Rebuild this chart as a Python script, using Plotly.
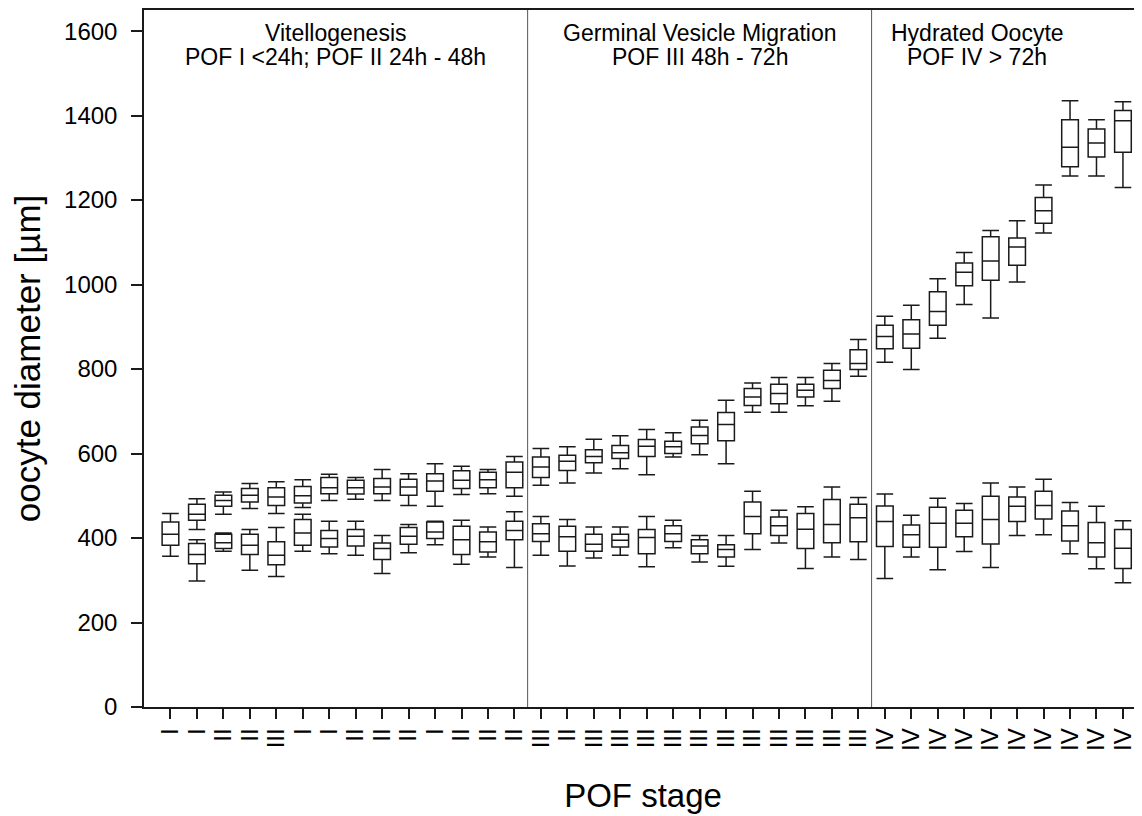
import plotly.graph_objects as go

# ---------------- data ----------------
pof_labels = ["I", "I", "II", "II", "III", "I", "I", "II", "II", "II", "I", "II", "II", "II",
              "III", "II", "III", "III", "III", "III", "III", "III", "III", "III", "III", "III", "III",
              "IV", "IV", "IV", "IV", "IV", "IV", "IV", "IV", "IV", "IV"]

group_titles = ["Vitellogenesis", "Germinal Vesicle Migration", "Hydrated Oocyte"]
group_subtitles = ["POF I <24h; POF II 24h - 48h", "POF III 48h - 72h", "POF IV > 72h"]
group_sizes = [14, 13, 10]

# upper (leading) oocyte cohort: samples 2..37
upper_pos = list(range(1, 37))
upper_low = [420, 456, 470, 458, 472, 489, 492, 489, 477, 475, 503, 505, 499,
             525, 530, 554, 564, 550, 592, 597, 576, 698, 698, 713, 724, 783,
             816, 799, 873, 953, 921, 1006, 1122, 1257, 1257, 1230]
upper_q1 = [442, 475, 485, 477, 483, 505, 504, 505, 501, 511, 517, 519, 519,
            543, 560, 578, 588, 593, 600, 623, 630, 714, 718, 734, 754, 799,
            848, 849, 904, 997, 1010, 1046, 1145, 1279, 1302, 1313]
upper_med = [456, 489, 501, 497, 500, 519, 519, 521, 521, 535, 537, 538, 556,
             568, 582, 593, 602, 617, 616, 643, 669, 734, 742, 750, 773, 813,
             877, 883, 936, 1029, 1056, 1089, 1175, 1325, 1335, 1388]
upper_q3 = [480, 501, 517, 519, 522, 543, 537, 541, 539, 552, 559, 556, 580,
            592, 596, 609, 619, 633, 629, 663, 697, 754, 764, 764, 797, 846,
            904, 917, 983, 1051, 1113, 1110, 1206, 1390, 1368, 1412]
upper_high = [493, 509, 529, 533, 538, 551, 543, 562, 552, 576, 570, 562, 593,
              612, 616, 634, 642, 657, 649, 679, 726, 767, 780, 780, 813, 870,
              925, 951, 1014, 1076, 1128, 1151, 1236, 1435, 1390, 1433]

# lower (secondary) oocyte cohort: samples 1..37
lower_pos = list(range(0, 37))
lower_low = [357, 298, 369, 324, 309, 369, 363, 359, 316, 365, 384, 338, 355, 330,
             359, 334, 353, 359, 332, 377, 343, 333, 373, 388, 328, 355, 349,
             304, 355, 325, 368, 330, 406, 408, 363, 327, 294]
lower_q1 = [383, 339, 375, 361, 337, 383, 379, 381, 349, 385, 399, 361, 367, 396,
            392, 369, 369, 379, 363, 392, 363, 355, 410, 406, 375, 389, 391,
            380, 378, 378, 403, 386, 439, 445, 393, 355, 328]
lower_med = [409, 361, 389, 383, 359, 412, 399, 404, 375, 404, 414, 396, 391, 418,
             410, 403, 385, 395, 401, 410, 381, 373, 451, 429, 421, 432, 448,
             439, 408, 435, 435, 444, 475, 477, 429, 389, 376]
lower_q3 = [438, 387, 409, 409, 391, 444, 418, 420, 388, 425, 438, 428, 414, 440,
            434, 428, 409, 409, 420, 429, 396, 384, 485, 450, 458, 491, 480,
            476, 431, 473, 466, 499, 497, 511, 464, 437, 420]
lower_high = [458, 396, 412, 420, 425, 456, 440, 440, 406, 432, 440, 442, 426, 462,
              451, 444, 426, 426, 451, 442, 406, 406, 511, 466, 474, 521, 496,
              504, 454, 494, 482, 530, 521, 539, 484, 475, 441]

y_ticks = [0, 200, 400, 600, 800, 1000, 1200, 1400, 1600]

# ---------------- figure ----------------
FONT = "Liberation Sans, Arial, Helvetica, sans-serif"
LINE = "#1a1a1a"

box_style = dict(
    orientation="v",
    width=0.63,
    whiskerwidth=1,
    fillcolor="white",
    line=dict(color=LINE, width=1.5),
    showlegend=False,
    boxpoints=False,
)

fig = go.Figure()
fig.add_trace(go.Box(x=lower_pos, lowerfence=lower_low, q1=lower_q1, median=lower_med,
                     q3=lower_q3, upperfence=lower_high, name="lower", **box_style))
fig.add_trace(go.Box(x=upper_pos, lowerfence=upper_low, q1=upper_q1, median=upper_med,
                     q3=upper_q3, upperfence=upper_high, name="upper", **box_style))

# group dividers and headers
shapes = []
annotations = []
start = -0.5
for i, n in enumerate(group_sizes):
    end = start + n
    if i < len(group_sizes) - 1:
        shapes.append(dict(type="line", xref="x", yref="paper", x0=end, x1=end, y0=0, y1=1,
                           line=dict(color="#555555", width=1)))
    left = start if i > 0 else -1
    right = end if i < len(group_sizes) - 1 else end - 2
    cx = (left + right) / 2
    annotations.append(dict(x=cx, y=0.967, xref="x", yref="paper", text=group_titles[i],
                            showarrow=False, xanchor="center", yanchor="middle",
                            font=dict(family=FONT, size=23, color="black")))
    annotations.append(dict(x=cx, y=0.932, xref="x", yref="paper", text=group_subtitles[i],
                            showarrow=False, xanchor="center", yanchor="middle",
                            font=dict(family=FONT, size=23, color="black")))
    start = end

# page body has an 8px default margin: figure is sized so that it ends at the window edge
fig.update_layout(
    width=1134, height=808,
    margin=dict(l=136, r=0, t=2, b=109),
    paper_bgcolor="white", plot_bgcolor="white",
    boxmode="overlay",
    font=dict(family=FONT, color="black"),
    shapes=shapes,
    annotations=annotations,
    xaxis=dict(
        range=[-1, 36.72],
        tickmode="array",
        tickvals=list(range(len(pof_labels))),
        ticktext=pof_labels,
        tickangle=-90,
        tickfont=dict(family=FONT, size=24, color="black"),
        ticks="outside", ticklen=10, tickwidth=1.5, tickcolor=LINE,
        showline=True, linecolor=LINE, linewidth=1.5, mirror=True,
        showgrid=False, zeroline=False,
        title=dict(text="POF stage", font=dict(family=FONT, size=33, color="black"), standoff=34),
    ),
    yaxis=dict(
        range=[0, 1650],
        tickmode="array",
        tickvals=y_ticks,
        tickfont=dict(family=FONT, size=24, color="black"),
        ticks="outside", ticklen=11, tickwidth=1.5, tickcolor=LINE,
        ticklabelstandoff=9,
        showline=True, linecolor=LINE, linewidth=1.5,
        showgrid=False, zeroline=False,
        title=dict(text="oocyte diameter [µm]", font=dict(family=FONT, size=35, color="black"),
                   standoff=16),
    ),
)

fig.write_html("out.html")
